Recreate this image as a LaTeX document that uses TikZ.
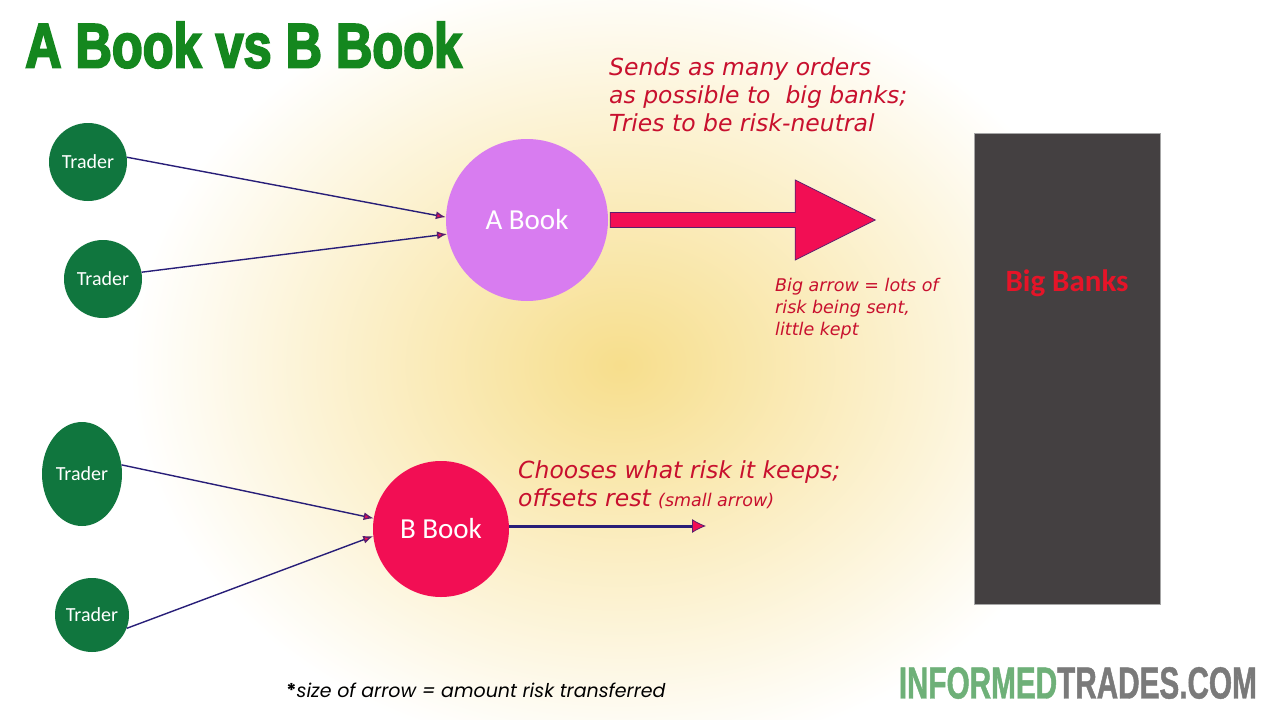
\documentclass[tikz,border=0pt]{standalone}
\usepackage{fontspec}
\setmainfont{Carlito}
\newfontfamily\titlefont[FakeStretch=0.8,FakeBold=3]{Liberation Sans}
\newfontfamily\logofont[FakeStretch=0.66,FakeBold=1]{Liberation Sans}
\newfontfamily\handfont{DejaVu Sans}
\newfontfamily\footfont{Poppins}
\usetikzlibrary{positioning,shapes.geometric,arrows.meta}
\definecolor{titleg}{RGB}{20,135,30}
\definecolor{traderg}{RGB}{16,118,62}
\definecolor{abookc}{RGB}{216,124,240}
\definecolor{bbookc}{RGB}{242,14,84}
\definecolor{linkc}{RGB}{40,30,120}
\definecolor{tipedge}{RGB}{90,30,110}
\definecolor{handred}{RGB}{200,16,46}
\definecolor{banksc}{RGB}{68,64,65}
\definecolor{bankred}{RGB}{230,20,40}
\definecolor{logog}{RGB}{110,176,120}
\definecolor{logogray}{RGB}{122,122,122}
\definecolor{bgyellow}{RGB}{247,222,140}
\begin{document}
\begin{tikzpicture}[x=1pt, y=-1pt, ->,
    trader/.style={circle, fill=traderg, text=white, minimum size=78pt, inner sep=0pt, font=\fontsize{20}{22}\selectfont},
    book/.style={circle, text=white, inner sep=0pt, font=\fontsize{29}{32}\selectfont},
    link/.style={draw=linkc, line width=1.4pt, -{Latex[length=10pt,width=8pt,color=tipedge,fill=bbookc]}},
    note/.style={align=left, anchor=north west, text=handred, inner sep=0pt, font=\handfont\itshape\fontsize{23.5}{28}\selectfont}]
    \tikzstyle{every node}=[inner sep=0pt]

    \useasboundingbox (0,0) rectangle (1280,720);
    \fill[white] (0,0) rectangle (1280,720);
    \begin{scope}
      \clip (0,0) rectangle (1280,720);
      \shade[inner color=bgyellow, outer color=white] (130,-30) rectangle (1110,760);
    \end{scope}

    \node[anchor=west, text=titleg, font=\titlefont\bfseries\fontsize{63}{70}\selectfont] (title) at (25,45) {A Book vs B Book};

    \node[trader] (1) at (88,162) {Trader};
    \node[trader] (2) at (103,279) {Trader};
    \node[trader, ellipse, minimum width=80pt, minimum height=104pt] (3) at (82,474) {Trader};
    \node[trader, minimum size=74pt] (4) at (92,615) {Trader};
    \node[book, fill=abookc, minimum size=162pt] (A) at (527,220) {A Book};
    \node[book, fill=bbookc, minimum size=136pt] (B) at (441,529) {B Book};
    \node[draw=gray!70, fill=banksc, minimum width=186pt, minimum height=471pt] (banks) at (1067,368.5) {};
    \node[below=137pt of banks.north, text=bankred, font=\bfseries\fontsize{31}{34}\selectfont] (bankslabel) {Big Banks};

    \path[every edge/.style=link]
      (1.7) edge (A.178)
      (2.10) edge (A.190)
      (3.13) edge (B.171)
      (4.339) edge (B.186);

    \draw[-, fill=bbookc, draw=tipedge, line width=0.8pt] (A.east) ++(2,-7.5) -- ++(185,0) -- ++(0,-32.5) -- ++(80,40) -- ++(-80,40) -- ++(0,-32.5) -- ++(-185,0) -- cycle;
    \coordinate (send) at (706,526);
    \draw[draw=linkc, line width=3pt, -{Latex[length=14pt,width=14pt,color=tipedge,fill=bbookc,line width=0.8pt]}] (B.east |- send) -- (send);

    \node[note] (sends) at (609,57) {Sends as many orders\\as possible to\ \ big banks;\\Tries to be risk-neutral};
    \node[note, font=\handfont\itshape\fontsize{17.5}{22}\selectfont] (bignote) at (775,278) {Big arrow = lots of\\risk being sent,\\little kept};
    \node[note] (choose) at (518,460) {Chooses what risk it keeps;\\offsets rest {\fontsize{17.5}{20}\selectfont(small arrow)}};

    \node[font=\footfont\itshape\fontsize{19}{22}\selectfont] (foot) at (476,690) {{\upshape\bfseries *}size of arrow = amount risk transferred};
    \node[anchor=east, font=\logofont\bfseries\fontsize{45}{50}\selectfont] (logo) at (1257,683) {\textcolor{logog}{INFORMED}\textcolor{logogray}{TRADES.COM}};
\end{tikzpicture}
\end{document}
